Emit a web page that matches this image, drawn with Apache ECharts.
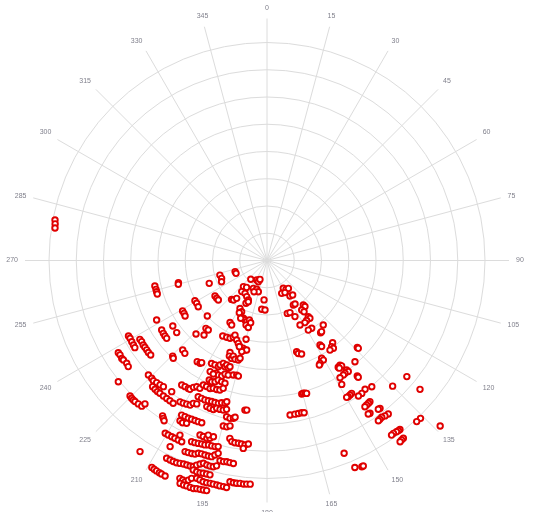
<!DOCTYPE html>
<html>
<head>
<meta charset="utf-8">
<script src="https://cdn.jsdelivr.net/npm/echarts@6/dist/echarts.min.js"></script>
<style>html,body{margin:0;padding:0;background:#fff;}#c{width:534px;height:512px;}</style>
</head>
<body>
<div id="c"></div>
<script>
// angle tick labels (degrees)
const angleTicks = [0,15,30,45,60,75,90,105,120,135,150,165,180,195,210,225,240,255,270,285,300,315,330,345];
// [radius, angle] pairs
const pointsWest = [[7.92,280.8],[7.89,279.8],[7.87,278.7]];
const pointsSouthWest = [
[1.81,252.8],[1.79,248.5],[1.84,245],
[1.24,250.8],[1.23,247.5],
[0.91,220.9],[0.81,207.9],[0.77,201.5],[0.84,202.3],[0.74,200.4],
[2.28,248.4],
[3.35,256],[3.37,255],
[4.22,257.2],[4.21,255.4],[4.21,254.2],[4.21,253],
[1.29,222.1],[1.24,217.2],[1.14,206.2],[1.12,199.7],[1.19,195.5],[1.24,202.6],
[1.47,219.1],[1.45,213.8],
[2.31,235.7],[2.31,233.1],[2.30,230.9],
[1.93,222.3],[1.90,220.4],[1.78,218.7],
[1.52,209.3],[1.60,205.3],[1.75,206.1],[1.66,204.4],
[1.45,184.3],
[3.03,240.8],[3.02,238.7],[3.04,236.1],
[2.02,209.4],[2.10,206.3],[2.17,207.9],
[1.80,186.2],[1.82,182.3],
[3.61,239.1],[3.61,237.5],[3.63,235.9],
[2.99,227.1],
[4.60,241.7],
[2.29,202.2],[2.33,200.3],[2.37,198.4],[2.28,196.5],[2.49,198],[2.55,195.6],[2.36,194.7],[2.33,204.5],
[2.65,210.8],[2.70,208.7],
[4.21,235.2],
[4.63,236.6],[4.65,234.9],[4.66,233.5],[4.66,232.2],
[4.24,231.4],
[3.75,224],[3.58,220.2],[3.35,222],[3.34,220.2],
[3.21,210.4],[3.18,207.7],[3.16,205.4],[3.08,203.7],[2.98,203.2],[3.12,200.9],[3.22,199.1],[3.31,197.4],[3.34,195.1],[3.38,193.8],[3.37,192.8],[3.47,195.5],[3.32,197.8],
[2.99,194.9],
[5.79,241.4],[5.78,240.4],[5.79,239],[5.80,237.7],[5.81,236.6],
[5.49,238.2],[5.48,237.1],[5.50,235.7],[5.50,234.6],[5.50,233.4],[5.51,232.2],[5.50,230.9],
[6.42,238.2],[6.41,237.3],[6.43,236],[6.41,235.3],[6.38,233.8],[6.41,232.6],
[4.51,223.3],[4.55,221.5],
[4.93,224.6],[4.97,223.8],
[4.51,214.6],[4.50,213.1],[4.45,212.6],
[3.64,201.9],[3.77,201.5],[3.82,199.9],[3.72,199.4],[3.81,197.9],[3.80,196.1],[3.72,195.4],
[4.29,208.3],[4.28,206.5],[4.29,204.6],[4.20,204.2],[4.10,203],[4.19,201.6],[4.11,201.1],[4.20,199.7],[4.13,199.2],
[4.54,204.3],[4.57,203],[4.55,201.4],[4.44,200.3],[4.44,198.7],[4.38,196.4],[4.35,194.8],[4.37,193.9],
[4.58,207.1],[4.61,205.3],
[4.87,205.8],[4.89,204.5],[4.84,203.2],[4.74,202.2],[4.75,200.5],[4.76,198.9],
[7.04,230.8],
[6.05,226],[6.05,224.4],[6.07,223.4],[6.04,222.1],[6.02,220.7],[5.99,219.4],
[5.54,214.4],[5.52,213],[5.51,211.6],[5.51,210.9],[5.38,210.1],[5.30,209.1],[5.30,207.7],
[5.13,207.1],[5.13,205.6],[5.14,204],[5.09,202.8],[5.08,201.3],[5.06,200],[4.96,198.9],
[5.95,216],
[6.25,222.2],[6.26,221],[6.27,219.9],[6.26,218.9],[6.26,217.4],[6.26,216],[6.26,214.7],[6.27,213.3],
[5.60,206.8],[5.60,205.4],[5.60,204],[5.58,202.7],[5.56,201.4],[5.55,200.1],[5.54,198.8],[5.48,197.7],[5.46,196.4],[5.39,195.9],
[7.07,225.3],[7.09,224.5],[7.09,223.8],[7.09,223.1],[7.07,221.9],[7.05,220.7],[6.91,220.4],
[6.09,211.6],[6.07,210.4],[6.04,209.2],[6.01,208],[5.90,207.3],[5.86,206.1],
[5.80,202.4],[5.81,201.1],[5.81,199.8],[5.73,198.8],[5.73,197.5],[5.72,196.3],[5.66,195.2],
[5.55,188.4],[5.54,187.7],
[6.87,213.9],[6.93,213.3],[6.99,212.7],
[6.48,208.9],[6.47,207.7],[6.47,206.5],[6.45,205.4],[6.44,204.2],[6.43,203.1],[6.42,201.9],
[5.92,194.5],[5.95,193.2],[5.92,192],[5.87,191.5],
[6.69,208.5],[6.71,207.5],[6.66,206.3],
[6.28,194.8],[6.28,193.6],[6.22,192.6],
[7.36,210.5],[7.36,209.5],[7.35,208.4],[7.35,207.4],[7.35,206.3],[7.35,205.2],
[7.16,206.5],
[6.86,201],[6.87,199.9],[6.89,198.7],[6.85,197.8],[6.76,196.9],[6.76,198.6],
[7.20,202.6],[7.19,201.6],[7.17,200.6],[7.15,199.6],[7.14,198.6],[7.10,197.6],[7.10,196.6],[7.09,195.6],[7.06,194.7],
[6.67,191.8],[6.77,191],[6.79,190],[6.79,188.9],[6.80,187.9],[6.82,186.8],[6.77,185.8],
[6.95,187.2],
[8.42,213.6],
[7.70,207.5],
[7.63,203.2],[7.62,202.3],[7.60,201.3],[7.58,200.4],[7.51,199.6],[7.49,198.7],[7.49,197.7],[7.49,196.7],[7.48,195.8],[7.39,195],[7.30,194.2],
[7.55,193.2],[7.55,192.2],[7.53,191.3],[7.54,190.4],[7.55,189.4],
[8.14,206.9],[8.14,205.9],[8.14,205],[8.13,204.1],[8.10,203.2],[8.07,202.3],[8.06,201.4],[8.05,200.5],[8.03,199.7],[7.94,199],[7.86,198.2],[7.80,197.4],[7.82,196.4],[7.83,195.5],[7.82,194.6],[7.76,193.8],
[8.15,199.4],[8.17,198.4],[8.17,197.5],[8.15,196.7],[8.14,195.8],[8.14,194.9],
[8.69,209.1],[8.71,208.4],[8.72,207.7],[8.73,206.9],[8.74,206.3],[8.75,205.3],
[8.61,201.8],[8.63,201],[8.66,200.3],[8.56,199.7],[8.46,199.1],
[8.40,197.9],[8.42,197],[8.45,196.1],[8.45,195.2],[8.44,194.3],[8.44,193.5],[8.44,192.6],[8.45,191.8],[8.45,190.9],[8.46,190.1],
[8.23,189.5],[8.25,188.6],[8.25,187.8],[8.24,186.9],[8.25,186],[8.24,185.2],[8.23,184.3],
[8.78,201.3],[8.79,200.4],[8.78,199.6],[8.79,198.7],[8.79,197.9],[8.76,197.1],[8.75,196.3],[8.74,195.5],[8.73,194.7]
];
const pointsSouthEast = [
[1.18,149.6],[1.27,146.6],[1.29,142.5],[1.32,155.9],[1.35,150.8],
[1.55,147.1],[1.58,143.4],
[1.90,149.4],[1.90,147.2],[2.08,159],[2.09,156.2],
[2.11,140.8],[2.19,140.5],[2.22,145],[2.32,144.1],
[2.30,153.5],
[2.56,143.7],[2.64,143.4],[2.64,146.6],[2.67,148.6],
[3.14,138.9],[3.30,143.4],[3.29,142.5],
[2.66,152.9],[2.98,146.6],[2.97,149.3],
[3.66,147.9],[3.74,147.6],[3.86,141.4],[3.95,143.1],[4.04,142.9],[4.02,144.9],
[4.60,133.9],[4.65,133.9],
[3.52,162],[3.60,161.4],[3.66,159.7],
[4.11,150.8],[4.20,150.5],[4.25,152.7],[4.29,153.4],
[4.92,139],
[4.68,145.1],[4.74,144.7],[4.71,146.3],[4.76,146.1],
[4.97,144],[5.05,143.8],[5.03,145.3],[5.05,146.3],
[5.07,148.1],
[5.38,142],[5.44,142],
[5.31,148.9],
[6.67,129.7],
[6.52,135],
[6.02,140.3],[5.94,142.7],[5.99,144.5],[6.00,146],
[7.34,130.1],
[5.06,165.4],[5.05,164.7],[5.07,164],[5.09,163.4],
[5.78,147.5],[5.80,148.3],[5.82,149.2],[5.81,149.8],
[6.41,143.9],[6.43,144.6],[6.44,145.4],[6.46,146.2],
[6.83,142.6],[6.82,143.2],
[5.73,171.5],[5.73,169.7],[5.73,168.4],[5.73,167.2],[5.75,166.3],
[6.76,146],[6.75,146.6],
[7.18,141.7],[7.16,142.8],[7.13,143.8],[7.15,144.6],[7.16,145.2],
[8.08,135.8],[8.07,137.1],
[8.79,133.7],
[7.89,141.8],[7.89,142.3],[7.88,142.9],[7.86,143.8],[7.87,144.5],
[8.22,142.5],[8.23,143.1],[8.25,143.7],
[7.62,158.2],
[8.25,157],[8.33,155.3],[8.33,154.9]
];
const ringCount = 8;

const chart = echarts.init(document.getElementById('c'), null, {renderer: 'canvas'});
const cx = 267, cy = 260.5, ringRadius = 218, spokeRadius = 242;
const dataMax = spokeRadius / ringRadius * ringCount;
const gridColor = '#dcdcdc';
const allPoints = pointsWest.concat(pointsSouthWest, pointsSouthEast);
chart.setOption({
  animation: false,
  backgroundColor: '#ffffff',
  polar: [
    {center: [cx, cy], radius: spokeRadius},
    {center: [cx, cy], radius: ringRadius}
  ],
  angleAxis: [
    {
      polarIndex: 0, type: 'value', min: 0, max: 360, interval: 15,
      startAngle: 90, clockwise: true,
      axisLine: {show: false}, axisTick: {show: false},
      axisLabel: {
        color: '#80808c', fontSize: 7, fontFamily: 'Liberation Sans, Arial, sans-serif', margin: 7,
        formatter: function (v) { return angleTicks.indexOf(v) >= 0 ? String(v) : ''; }
      },
      splitLine: {show: true, lineStyle: {color: gridColor, width: 1}}
    },
    {
      polarIndex: 1, type: 'value', min: 0, max: 360, show: false,
      startAngle: 90, clockwise: true
    }
  ],
  radiusAxis: [
    {polarIndex: 0, type: 'value', min: 0, max: dataMax, show: false},
    {
      polarIndex: 1, type: 'value', min: 0, max: ringCount, interval: 1,
      axisLine: {show: false}, axisTick: {show: false}, axisLabel: {show: false},
      splitLine: {show: true, lineStyle: {color: gridColor, width: 1}}
    }
  ],
  series: [{
    type: 'scatter',
    coordinateSystem: 'polar',
    polarIndex: 0,
    symbol: 'circle',
    symbolSize: 5.5,
    itemStyle: {color: '#ffffff', borderColor: '#e00000', borderWidth: 1.9, opacity: 1},
    data: allPoints
  }]
});
</script>
</body>
</html>
